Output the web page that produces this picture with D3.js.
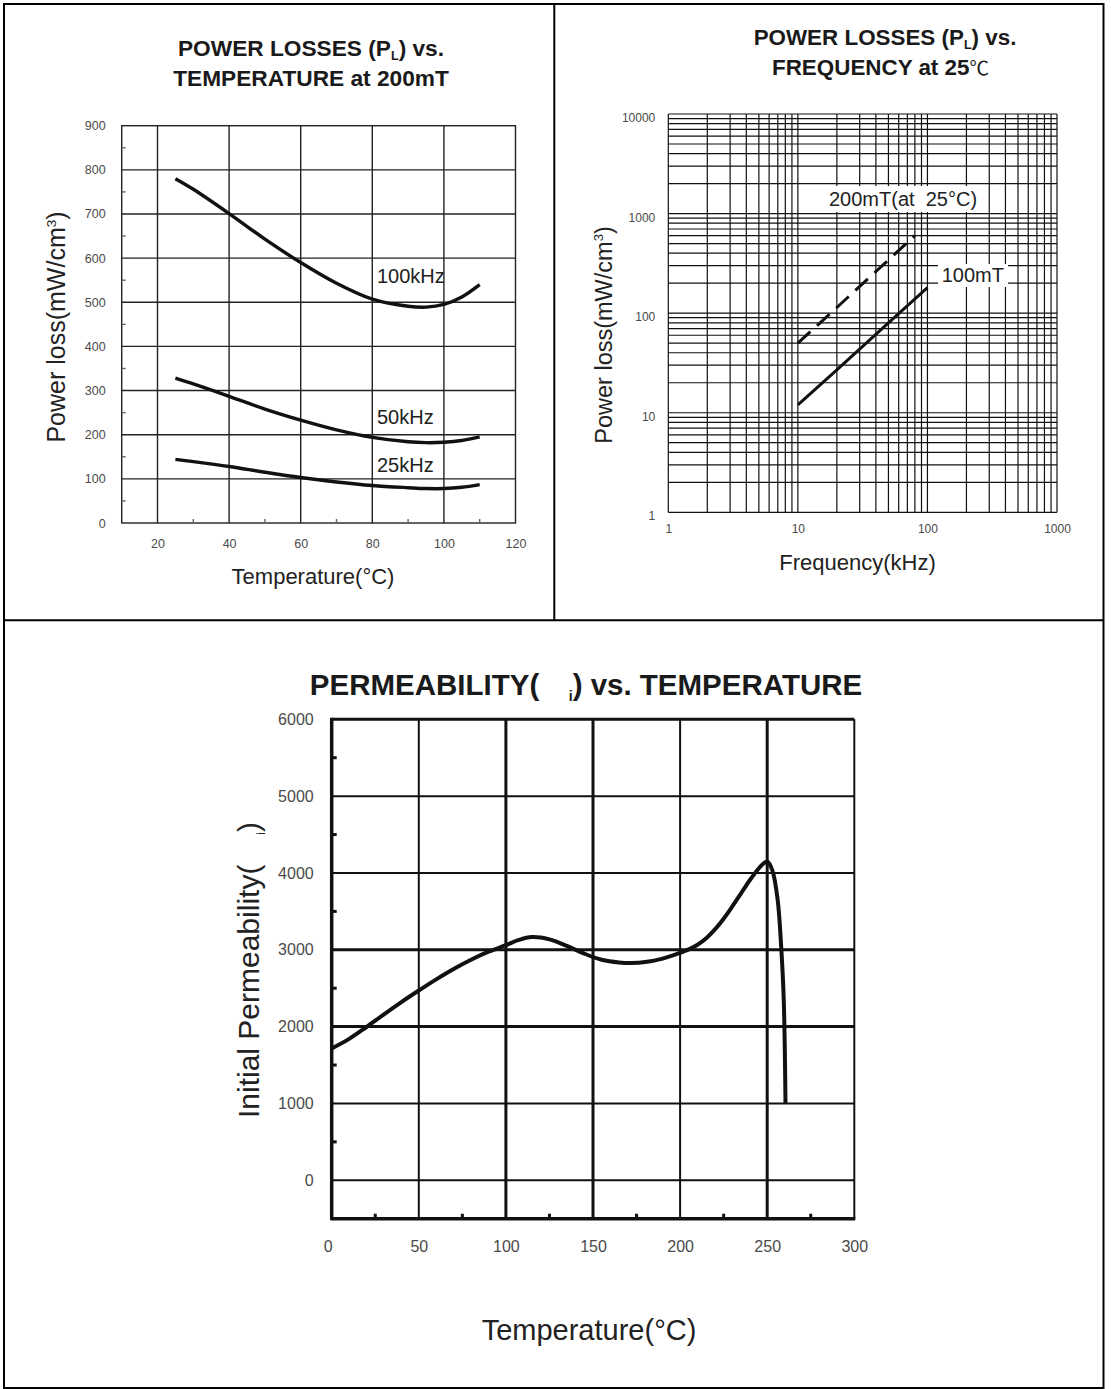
<!DOCTYPE html>
<html>
<head>
<meta charset="utf-8">
<script src="https://cdn.jsdelivr.net/npm/d3@7"></script>
<style>
  html, body { margin: 0; padding: 0; background: #fff; }
  svg { display: block; font-family: "Liberation Sans", Arial, sans-serif; }
</style>
</head>
<body>
<svg id="chart" width="1111" height="1389"></svg>
<script>
// ---------- DATA ----------
// Chart 1: Power losses vs temperature at 200mT
const tempTicks1 = [20, 40, 60, 80, 100, 120];
const lossTicks1 = [0, 100, 200, 300, 400, 500, 600, 700, 800, 900];
const series1Names = ["100kHz", "50kHz", "25kHz"];
const temp1 = [25, 30, 40, 50, 60, 70, 80, 90, 95, 100, 105, 110];
const loss100k = [780, 756, 701, 643, 590, 543, 507, 491, 489, 495, 512, 540];
const loss50k  = [328, 315, 287, 258, 233, 211, 194, 184, 182, 183, 187, 195];
const loss25k  = [144, 139, 128, 115, 103, 93, 85, 80, 78, 78, 81, 87];

// Chart 2: Power losses vs frequency at 25°C (log-log)
const freqTicks2 = [1, 10, 100, 1000];
const lossTicks2 = [1, 10, 100, 1000, 10000];
const series2Names = ["200mT(at\u00A0 25°C)", "100mT"];
const freq200mT = [10, 20, 40, 80];
const loss200mT = [50, 114, 262, 600];
const freq100mT = [10, 20, 50, 100];
const loss100mT = [12, 27, 80, 180];

// Chart 3: Initial permeability vs temperature
const tempTicks3 = [0, 50, 100, 150, 200, 250, 300];
const permTicks3 = [0, 1000, 2000, 3000, 4000, 5000, 6000];
const temp3 = [0, 10, 20, 30, 40, 50, 60, 70, 80, 90, 100, 107, 115, 125, 135, 145, 155, 165, 172, 180, 190, 200, 205, 210, 215, 220, 225, 230, 235, 240, 245, 248, 250, 253, 256, 258, 259.5, 260.5];
const perm3 = [1715, 1840, 1995, 2160, 2320, 2470, 2615, 2750, 2870, 2975, 3060, 3125, 3165, 3135, 3050, 2950, 2870, 2835, 2828, 2840, 2885, 2960, 3005, 3065, 3150, 3265, 3405, 3565, 3735, 3905, 4055, 4125, 4150, 4030, 3650, 3050, 2350, 1000];

// ---------- DRAW ----------
const svg = d3.select("#chart");
const INK = "#111";
const LABEL = "#4a4a4a";

svg.append("rect").attr("x", 4).attr("y", 4).attr("width", 1099.5).attr("height", 1384)
  .attr("fill", "none").attr("stroke", "#000").attr("stroke-width", 2);
svg.append("line").attr("x1", 4).attr("x2", 1103.5).attr("y1", 620.3).attr("y2", 620.3)
  .attr("stroke", "#000").attr("stroke-width", 2);
svg.append("line").attr("x1", 554.3).attr("x2", 554.3).attr("y1", 4).attr("y2", 620.3)
  .attr("stroke", "#000").attr("stroke-width", 2);

const smooth = d3.curveCatmullRom.alpha(0.5);

// ===== Chart 1 =====
(function () {
  const x = d3.scaleLinear().domain([10, 120]).range([121.7, 515.5]);
  const y = d3.scaleLinear().domain([0, 900]).range([523, 125.7]);
  const g = svg.append("g");

  g.selectAll(".v").data(tempTicks1.filter(t => t < 120)).join("line")
    .attr("x1", d => x(d)).attr("x2", d => x(d)).attr("y1", y(0)).attr("y2", y(900))
    .attr("stroke", "#222").attr("stroke-width", 1.4);
  g.selectAll(".h").data(lossTicks1.filter(v => v > 0 && v < 900)).join("line")
    .attr("x1", x(10)).attr("x2", x(120)).attr("y1", d => y(d)).attr("y2", d => y(d))
    .attr("stroke", "#222").attr("stroke-width", 1.4);
  g.append("rect").attr("x", x(10)).attr("y", y(900)).attr("width", x(120) - x(10)).attr("height", y(0) - y(900))
    .attr("fill", "none").attr("stroke", "#222").attr("stroke-width", 1.4);

  const minorY = d3.range(50, 900, 100);
  g.selectAll(".my").data(minorY).join("line")
    .attr("x1", x(10)).attr("x2", x(10) + 4).attr("y1", d => y(d)).attr("y2", d => y(d))
    .attr("stroke", "#666").attr("stroke-width", 1.4);
  const minorX = [30, 50, 70, 90, 110];
  g.selectAll(".mx").data(minorX).join("line")
    .attr("x1", d => x(d)).attr("x2", d => x(d)).attr("y1", y(0)).attr("y2", y(0) - 4)
    .attr("stroke", "#666").attr("stroke-width", 1.4);

  const ax = g.append("g").attr("transform", `translate(0,${y(0)})`)
    .call(d3.axisBottom(x).tickValues(tempTicks1).tickSize(0).tickPadding(16));
  const ay = g.append("g").attr("transform", `translate(${x(10)},0)`)
    .call(d3.axisLeft(y).tickValues(lossTicks1).tickSize(0).tickPadding(16));
  [ax, ay].forEach(a => {
    a.select(".domain").remove();
    a.selectAll("text").attr("fill", LABEL).style("font-size", "12.5px").style("font-family", "Liberation Sans, Arial, sans-serif");
  });

  const line = d3.line().x(d => x(d[0])).y(d => y(d[1])).curve(smooth);
  const all = [loss100k, loss50k, loss25k];
  g.selectAll(".c").data(all).join("path")
    .attr("d", vals => line(temp1.map((t, i) => [t, vals[i]])))
    .attr("fill", "none").attr("stroke", INK).attr("stroke-width", 3.4).attr("stroke-linecap", "butt");

  const labelPos = [[377, 282.5], [377, 423.5], [377, 471.5]];
  g.selectAll(".sl").data(series1Names).join("text")
    .attr("x", (d, i) => labelPos[i][0]).attr("y", (d, i) => labelPos[i][1])
    .attr("fill", "#222").style("font-size", "20px").text(d => d);

  const t = g.append("text").attr("text-anchor", "middle").attr("fill", "#1a1a1a")
    .style("font-size", "22.7px").style("font-weight", "bold");
  const t1 = t.append("tspan").attr("x", 311).attr("y", 56);
  t1.append("tspan").text("POWER LOSSES (P");
  t1.append("tspan").attr("dy", 4).style("font-size", "12.5px").text("L");
  t1.append("tspan").attr("dy", -4).text(") vs.");
  t.append("tspan").attr("x", 311).attr("y", 86).text("TEMPERATURE at 200mT");

  g.append("text").attr("x", 313).attr("y", 584).attr("text-anchor", "middle")
    .attr("fill", "#222").style("font-size", "22px").text("Temperature(°C)");

  const yt = g.append("text").attr("transform", "translate(65,327) rotate(-90)")
    .attr("text-anchor", "middle").attr("fill", "#222").style("font-size", "25px");
  yt.append("tspan").text("Power loss(mW/cm");
  yt.append("tspan").attr("dy", -9).style("font-size", "13.5px").text("3");
  yt.append("tspan").attr("dy", 9).text(")");
})();

// ===== Chart 2 =====
(function () {
  const x = d3.scaleLog().domain([1, 1000]).range([668.3, 1057]);
  const y = d3.scaleLog().domain([1, 10000]).range([512.3, 114]);
  const g = svg.append("g");

  const xGrid = [];
  [1, 10, 100].forEach(dec => { for (let k = 1; k <= 9; k++) xGrid.push(dec * k); });
  xGrid.push(1000);
  const yGrid = [];
  [1, 10, 100, 1000].forEach(dec => { for (let k = 1; k <= 9; k++) yGrid.push(dec * k); });
  yGrid.push(10000);

  g.selectAll(".v").data(xGrid).join("line")
    .attr("x1", d => x(d)).attr("x2", d => x(d)).attr("y1", y(1)).attr("y2", y(10000))
    .attr("stroke", "#111").attr("stroke-width", 1.2);
  g.selectAll(".h").data(yGrid).join("line")
    .attr("x1", x(1)).attr("x2", x(1000)).attr("y1", d => y(d)).attr("y2", d => y(d))
    .attr("stroke", "#111").attr("stroke-width", 1.2);

  const ax = g.append("g").attr("transform", `translate(0,${y(1)})`)
    .call(d3.axisBottom(x).tickValues(freqTicks2).tickFormat(d3.format("d")).tickSize(0).tickPadding(12));
  const ay = g.append("g").attr("transform", `translate(${x(1)},0)`)
    .call(d3.axisLeft(y).tickValues(lossTicks2).tickFormat(d3.format("d")).tickSize(0).tickPadding(13));
  [ax, ay].forEach(a => {
    a.select(".domain").remove();
    a.selectAll("text").attr("fill", LABEL).style("font-size", "12px").style("font-family", "Liberation Sans, Arial, sans-serif");
  });
  ay.selectAll("text").attr("dy", "0.62em");

  const line = d3.line().x(d => x(d[0])).y(d => y(d[1]));
  g.append("path").attr("d", line(freq200mT.map((f, i) => [f, loss200mT[i]])))
    .attr("fill", "none").attr("stroke", INK).attr("stroke-width", 3).attr("stroke-dasharray", "17,9");
  g.append("path").attr("d", line(freq100mT.map((f, i) => [f, loss100mT[i]])))
    .attr("fill", "none").attr("stroke", INK).attr("stroke-width", 3);

  const lbl = [[829, 206, 826, 186, 162, 26], [941.7, 281.7, 938, 264, 70, 23]];
  series2Names.forEach((name, i) => {
    const p = lbl[i];
    g.append("rect").attr("x", p[2]).attr("y", p[3]).attr("width", p[4]).attr("height", p[5]).attr("fill", "#fff");
    g.append("text").attr("x", p[0]).attr("y", p[1]).attr("fill", "#222").style("font-size", "20px").text(name);
  });

  const t = g.append("text").attr("text-anchor", "middle").attr("fill", "#1a1a1a")
    .style("font-size", "22.4px").style("font-weight", "bold");
  const t1 = t.append("tspan").attr("x", 885).attr("y", 45);
  t1.append("tspan").text("POWER LOSSES (P");
  t1.append("tspan").attr("dy", 4).style("font-size", "12.5px").text("L");
  t1.append("tspan").attr("dy", -4).text(") vs.");
  const t2 = t.append("tspan").attr("x", 880.5).attr("y", 75);
  t2.append("tspan").text("FREQUENCY at 25");
  t2.append("tspan").style("font-weight", "normal").style("font-family", "Noto Sans CJK SC").style("font-size", "19.5px").text("\u2103");

  g.append("text").attr("x", 857.5).attr("y", 570).attr("text-anchor", "middle")
    .attr("fill", "#222").style("font-size", "22px").text("Frequency(kHz)");

  const yt = g.append("text").attr("transform", "translate(612,335) rotate(-90)")
    .attr("text-anchor", "middle").attr("fill", "#222").style("font-size", "23.5px");
  yt.append("tspan").text("Power loss(mW/cm");
  yt.append("tspan").attr("dy", -9).style("font-size", "13px").text("3");
  yt.append("tspan").attr("dy", 9).text(")");
})();

// ===== Chart 3 =====
(function () {
  const x = d3.scaleLinear().domain([0, 300]).range([331.7, 854.3]);
  const y = d3.scaleLinear().domain([-500, 6000]).range([1218.7, 719.3]);
  const g = svg.append("g");

  const thickX = [100, 150, 250];
  const thickY = [2000, 3000];
  g.selectAll(".v").data(tempTicks3.filter(t => t > 0 && t < 300)).join("line")
    .attr("x1", d => x(d)).attr("x2", d => x(d)).attr("y1", y(-500)).attr("y2", y(6000))
    .attr("stroke", "#111").attr("stroke-width", d => thickX.includes(d) ? 3 : 2);
  g.selectAll(".h").data(permTicks3.filter(v => v < 6000)).join("line")
    .attr("x1", x(0)).attr("x2", x(300)).attr("y1", d => y(d)).attr("y2", d => y(d))
    .attr("stroke", "#111").attr("stroke-width", d => thickY.includes(d) ? 3 : 2);
  g.append("line").attr("x1", x(0)).attr("x2", x(300)).attr("y1", y(6000)).attr("y2", y(6000)).attr("stroke", "#111").attr("stroke-width", 3);
  g.append("line").attr("x1", x(300)).attr("x2", x(300)).attr("y1", y(6000)).attr("y2", y(-500)).attr("stroke", "#111").attr("stroke-width", 2);
  g.append("line").attr("x1", x(0)).attr("x2", x(0)).attr("y1", y(6000) - 1.5).attr("y2", y(-500) + 1.5).attr("stroke", "#111").attr("stroke-width", 3.5);
  g.append("line").attr("x1", x(0)).attr("x2", x(300) + 1).attr("y1", y(-500)).attr("y2", y(-500)).attr("stroke", "#111").attr("stroke-width", 3.5);

  g.selectAll(".my").data(d3.range(500, 6000, 1000)).join("line")
    .attr("x1", x(0)).attr("x2", x(0) + 5).attr("y1", d => y(d)).attr("y2", d => y(d))
    .attr("stroke", "#111").attr("stroke-width", 3);
  g.selectAll(".mx").data(d3.range(25, 300, 50)).join("line")
    .attr("x1", d => x(d)).attr("x2", d => x(d)).attr("y1", y(-500)).attr("y2", y(-500) - 5)
    .attr("stroke", "#111").attr("stroke-width", 3);

  const ax = g.append("g").attr("transform", `translate(0,${y(-500)})`)
    .call(d3.axisBottom(x).tickValues(tempTicks3).tickFormat(d3.format("d")).tickSize(0).tickPadding(22));
  const ay = g.append("g").attr("transform", `translate(${x(0)},0)`)
    .call(d3.axisLeft(y).tickValues(permTicks3).tickFormat(d3.format("d")).tickSize(0).tickPadding(18));
  [ax, ay].forEach(a => {
    a.select(".domain").remove();
    a.selectAll("text").attr("fill", LABEL).style("font-size", "16px").style("font-family", "Liberation Sans, Arial, sans-serif");
  });
  ax.selectAll("text").attr("dx", d => d === 0 ? -4 : 0);

  const line = d3.line().x(d => x(d[0])).y(d => y(d[1])).curve(smooth);
  g.append("path").attr("d", line(temp3.map((t, i) => [t, perm3[i]])))
    .attr("fill", "none").attr("stroke", INK).attr("stroke-width", 4).attr("stroke-linejoin", "round");

  const t = g.append("text").attr("x", 586).attr("y", 695).attr("text-anchor", "middle")
    .attr("fill", "#1a1a1a").style("font-size", "29.5px").style("font-weight", "bold")
    .style("white-space", "pre");
  t.append("tspan").text("PERMEABILITY(\u2002\u2002");
  t.append("tspan").attr("dy", 6).style("font-size", "14px").text("i");
  t.append("tspan").attr("dy", -6).text(") vs. TEMPERATURE");

  g.append("text").attr("x", 589).attr("y", 1340).attr("text-anchor", "middle")
    .attr("fill", "#222").style("font-size", "29px").text("Temperature(°C)");

  const yt = g.append("text").attr("transform", "translate(259,970) rotate(-90)")
    .attr("text-anchor", "middle").attr("fill", "#222").style("font-size", "30px")
    .style("white-space", "pre");
  yt.append("tspan").text("Initial Permeability(\u2002\u2002");
  yt.append("tspan").attr("dy", 6).style("font-size", "12px").text("i");
  yt.append("tspan").attr("dy", -6).text(")");
})();
</script>
</body>
</html>
